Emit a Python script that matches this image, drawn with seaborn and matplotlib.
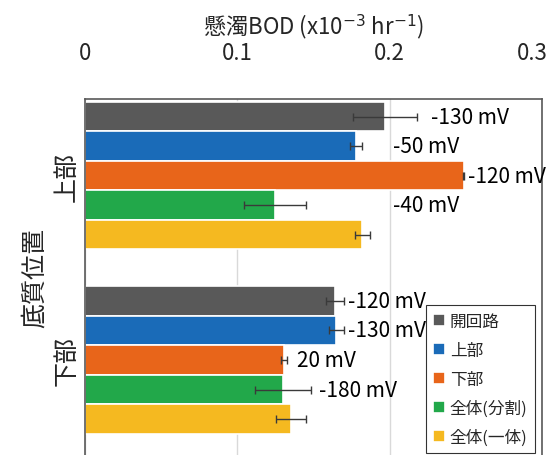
import matplotlib
matplotlib.use("Agg")
import matplotlib.pyplot as plt
import matplotlib.transforms as mtransforms
import seaborn as sns
import pandas as pd
import numpy as np

# 底質位置ごとの懸濁BOD（x10^-3 hr^-1）
positions = ["上部", "下部"]
conditions = ["開回路", "上部", "下部", "全体(分割)", "全体(一体)"]
bod_upper = [0.197, 0.178, 0.2485, 0.1248, 0.182]
bod_lower = [0.164, 0.165, 0.1307, 0.130, 0.135]
err_upper = [0.021, 0.004, 0.0005, 0.0206, 0.005]
err_lower = [0.006, 0.005, 0.002, 0.0186, 0.0099]
# 電位ラベル
mv_upper = ["-130 mV", "-50 mV", "-120 mV", "-40 mV", ""]
mv_lower = ["-120 mV", "-130 mV", "20 mV", "-180 mV", ""]
# ラベルの横位置
mv_x_upper = [0.2272, 0.2022, 0.2515, 0.2022, 0.0]
mv_x_lower = [0.1727, 0.1727, 0.1392, 0.1536, 0.0]

colors = ["#595959", "#1a6bb8", "#e8651a", "#22a84a", "#f5b920"]
x_ticks = [0, 0.1, 0.2, 0.3]
x_tick_labels = ["0", "0.1", "0.2", "0.3"]

df = pd.DataFrame({
    "位置": [positions[0]] * 5 + [positions[1]] * 5,
    "条件": conditions * 2,
    "BOD": bod_upper + bod_lower,
})

sns.set_style("white")
plt.rcParams["font.family"] = ["Noto Sans CJK JP", "DejaVu Sans"]
plt.rcParams["mathtext.fontset"] = "dejavusans"

fig = plt.figure(figsize=(5.49, 4.56), dpi=100)
ax = fig.add_axes([85 / 549, 0.0, 457 / 549, 1 - 100 / 456])

sns.barplot(data=df, x="BOD", y="位置", hue="条件", order=positions,
            hue_order=conditions, palette=colors, orient="h",
            errorbar=None, width=0.8, edgecolor="white", linewidth=1.2,
            saturation=1, ax=ax, zorder=2)

# 誤差棒とラベル
bars = ax.patches[:len(conditions) * len(positions)]
vals = {0: bod_upper, 1: bod_lower}
errs = {0: err_upper, 1: err_lower}
labs = {0: mv_upper, 1: mv_lower}
labx = {0: mv_x_upper, 1: mv_x_lower}
for b in bars:
    yc = b.get_y() + b.get_height() / 2
    gi = int(round(yc))
    # hue index from offset within the group
    hi = int(round((yc - gi + 0.4 - 0.08) / 0.16))
    v = vals[gi][hi]
    ax.errorbar(v, yc, xerr=errs[gi][hi], fmt="none", ecolor="#3a3a3a",
                elinewidth=1.0, capsize=3, capthick=1.0, zorder=3)
    if labs[gi][hi]:
        ax.text(labx[gi][hi], yc, labs[gi][hi], fontsize=15, va="center",
                ha="left", color="black", zorder=4)

ax.set_xlim(0, 0.3)
ax.set_ylim(1.515, -0.415)
ax.set_xticks(x_ticks)
ax.set_xticklabels(x_tick_labels)
ax.xaxis.tick_top()
ax.xaxis.set_label_position("top")
ax.tick_params(axis="x", length=0, pad=25, labelsize=16)
ax.tick_params(axis="y", length=0, pad=4, labelsize=18)
for lab in ax.get_yticklabels():
    lab.set_rotation(90)
    lab.set_va("center")
# keep the last tick label inside the figure
last = ax.get_xticklabels()[-1]
last.set_transform(last.get_transform() +
                   mtransforms.ScaledTranslation(-10 / 100, 0, fig.dpi_scale_trans))
ax.set_xlabel("懸濁BOD (x10$^{-3}$ hr$^{-1}$)", fontsize=16, labelpad=6)
ax.set_ylabel("底質位置", fontsize=18, labelpad=4)

ax.grid(axis="x", color="#d9d9d9", linewidth=1.0, zorder=0)
ax.set_axisbelow(True)
for side in ["left", "right", "top"]:
    ax.spines[side].set_visible(True)
    ax.spines[side].set_color("#595959")
    ax.spines[side].set_linewidth(1.2)
ax.spines["bottom"].set_visible(False)

leg = ax.legend(loc="upper right", bbox_to_anchor=(0.985, 0.421),
                borderaxespad=0, fontsize=12, frameon=True, fancybox=False,
                edgecolor="black", handlelength=0.7, handleheight=0.7,
                handletextpad=0.3, labelspacing=0.72, borderpad=0.45)
leg.get_frame().set_linewidth(0.8)
for h in leg.legend_handles:
    h.set_edgecolor("white")

fig.savefig("out.png", dpi=100)
